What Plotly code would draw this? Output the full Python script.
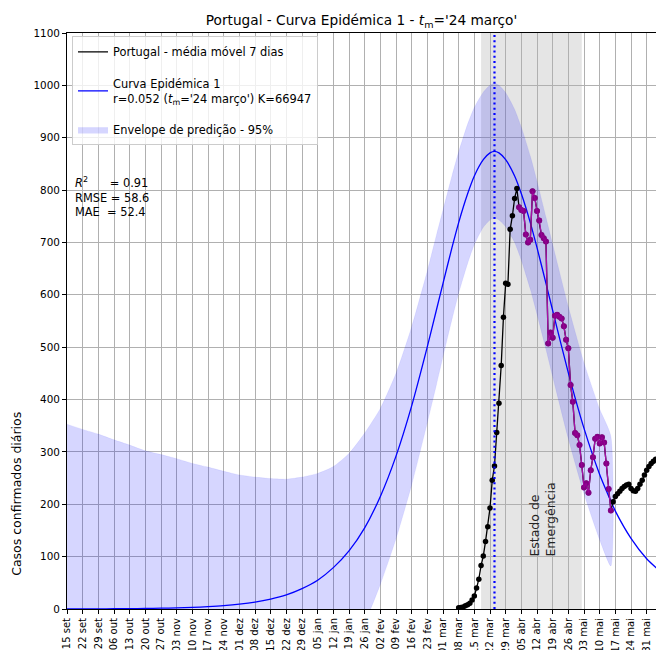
import plotly.graph_objects as go
import pandas as pd

# ---------------- data ----------------
tick_labels = ["15 set", "22 set", "29 set", "06 out", "13 out", "20 out", "27 out",
               "03 nov", "10 nov", "17 nov", "24 nov", "01 dez", "08 dez", "15 dez",
               "22 dez", "29 dez", "05 jan", "12 jan", "19 jan", "26 jan", "02 fev",
               "09 fev", "16 fev", "23 fev", "01 mar", "08 mar", "15 mar", "22 mar",
               "29 mar", "05 abr", "12 abr", "19 abr", "26 abr", "03 mai", "10 mai",
               "17 mai", "24 mai", "31 mai"]
tick_dates = pd.date_range("2019-09-15", periods=len(tick_labels), freq="7D")

# fitted epidemic curve
curve_dates = ["2019-09-15", "2019-09-22", "2019-09-29", "2019-10-06", "2019-10-13",
               "2019-10-20", "2019-10-27", "2019-11-03", "2019-11-10", "2019-11-17",
               "2019-11-24", "2019-12-01", "2019-12-08", "2019-12-15", "2019-12-22",
               "2019-12-29", "2020-01-05", "2020-01-12", "2020-01-19", "2020-01-26",
               "2020-02-02", "2020-02-09", "2020-02-16", "2020-02-23", "2020-02-27",
               "2020-03-01", "2020-03-05", "2020-03-08", "2020-03-12", "2020-03-15",
               "2020-03-19", "2020-03-22", "2020-03-24", "2020-03-26", "2020-03-29",
               "2020-04-02", "2020-04-05", "2020-04-09", "2020-04-12", "2020-04-16",
               "2020-04-19", "2020-04-26", "2020-05-03", "2020-05-10", "2020-05-15",
               "2020-05-17", "2020-05-24", "2020-05-31", "2020-06-07"]
curve_vals = [0.2, 0.2, 0.35, 0.5, 0.7, 1.0, 1.5, 2.2, 3.1, 4.5,
              6.4, 9.2, 13.2, 19, 27, 39, 55, 79, 111, 155,
              215, 292, 388, 501, 570, 622, 690, 738, 793, 827,
              858, 871, 874, 871, 858, 827, 793, 738, 690, 622,
              570, 451, 345, 257, 206, 187, 135, 96, 68]

# 95% prediction envelope
band_dates = curve_dates[:45]
band_upper = [353, 343, 334, 323, 313, 302, 295, 287, 278, 271,
              263, 256, 252, 249, 248, 252, 259, 272, 297, 336,
              383, 450, 539, 646, 713, 762, 827, 873, 926, 958,
              987, 1000, 1004, 1000, 986, 954, 920, 865, 817, 748,
              696, 577, 470, 382, 330]
band_lower = [-353, -343, -334, -322, -311, -300, -292, -283, -272, -262,
              -251, -238, -226, -211, -194, -174, -148, -114, -75, -26,
              47, 134, 237, 356, 427, 482, 553, 603, 660, 696,
              729, 743, 746, 743, 730, 700, 666, 611, 563, 496,
              444, 325, 220, 132, 82]

# Portugal - 7-day moving average (daily, from 8 March)
data_start = "2020-03-08"
data_vals = [2.5, 3, 4, 6, 8, 11, 17, 25, 40, 57,
             83, 101, 129, 157, 193, 246, 273, 337, 393, 465,
             557, 622, 620, 725, 751, 784, 803,
             767, 762, 760, 715, 700, 705, 798, 785, 760, 742,
             714, 708, 702, 507, 528, 518, 560, 562, 558, 555,
             540, 514, 498, 428, 396, 336, 332,
             313, 275, 232, 240, 222, 265, 290, 325, 329, 316,
             328, 318, 278, 229, 188,
             205, 215, 220, 225, 230, 234, 237, 238, 230, 226,
             225, 230, 238, 246, 256, 265, 272, 278, 282, 286]
data_dates = pd.date_range(data_start, periods=len(data_vals), freq="D")
fit_start = "2020-04-04"
fit_end = "2020-05-15"

emerg_start = "2020-03-18"
emerg_end = "2020-05-02"
tm_date = "2020-03-24"

# ---------------- figure ----------------
FONT = "DejaVu Sans"
fig = go.Figure()

# envelope
fig.add_trace(go.Scatter(
    x=list(band_dates) + list(band_dates[::-1]),
    y=band_upper + band_lower[::-1],
    fill="toself", fillcolor="rgba(0,0,255,0.16)",
    line=dict(color="rgba(0,0,255,0.08)", width=0.8, shape="spline", smoothing=0.6),
    mode="lines", name="Envelope de predição - 95%",
    legendgroup="c", legendrank=3, hoverinfo="skip"))

# fitted curve
fig.add_trace(go.Scatter(
    x=curve_dates, y=curve_vals, mode="lines",
    line=dict(color="blue", width=1.3, shape="spline", smoothing=0.6),
    name="Curva Epidémica 1<br>r=0.052 (<i>t</i><sub>m</sub>='24 março') K=66947",
    legendgroup="b", legendrank=2))

# data: line (in legend) + markers
fig.add_trace(go.Scatter(
    x=data_dates, y=data_vals, mode="lines",
    line=dict(color="black", width=1.3),
    name="Portugal - média móvel 7 dias",
    legendgroup="a", legendrank=1))
fig.add_trace(go.Scatter(
    x=data_dates, y=data_vals, mode="markers",
    marker=dict(color="black", size=5.5), showlegend=False))

mask = (data_dates >= pd.Timestamp(fit_start)) & (data_dates <= pd.Timestamp(fit_end))
fig.add_trace(go.Scatter(
    x=data_dates[mask], y=[v for v, m in zip(data_vals, mask) if m],
    mode="lines+markers",
    line=dict(color="#a810a8", width=1.3),
    marker=dict(color="rgba(145,0,145,0.9)", size=6),
    showlegend=False))

# state of emergency span
fig.add_shape(type="rect", xref="x", yref="paper", x0=emerg_start, x1=emerg_end,
              y0=0, y1=1, fillcolor="rgba(0,0,0,0.1)", line=dict(width=0), layer="below")
# tm line
fig.add_shape(type="line", xref="x", yref="paper", x0=tm_date, x1=tm_date, y0=0, y1=1,
              line=dict(color="blue", width=2.2, dash="2px,3.2px"), layer="above")

fig.add_annotation(x="2020-04-14 07:00", y=171, xref="x", yref="y",
                   text="Estado de<br>Emergência", textangle=-90, showarrow=False,
                   align="left", xanchor="center", yanchor="middle",
                   font=dict(family=FONT, size=12.5, color="#222"))

fig.add_annotation(x=0.0102, y=0.757, xref="paper", yref="paper",
                   text="<i>R</i><sup>2</sup>      = 0.91<br>RMSE = 58.6<br>MAE  = 52.4",
                   showarrow=False, align="left", xanchor="left", yanchor="top",
                   font=dict(family=FONT, size=11.4, color="black"))

fig.add_annotation(x=-0.0849, y=0.2, xref="paper", yref="paper",
                   text="Casos confirmados diários", textangle=-90, showarrow=False,
                   xanchor="center", yanchor="middle",
                   font=dict(family=FONT, size=12.5, color="black"))

axis_common = dict(showgrid=True, gridcolor="#b0b0b0", gridwidth=1,
                   ticks="outside", ticklen=4, tickcolor="black", tickwidth=1,
                   showline=True, linecolor="black", linewidth=1, mirror=True,
                   zeroline=False, automargin=False)

fig.update_xaxes(type="date", range=["2019-09-15", "2020-06-04 04:00"],
                 tickvals=tick_dates, ticktext=tick_labels, tickangle=-90,
                 tickfont=dict(family=FONT, size=10, color="black"),
                 **axis_common)
fig.update_yaxes(range=[0, 1100], tick0=0, dtick=100,
                 tickfont=dict(family=FONT, size=10.4, color="black"),
                 **axis_common)

fig.update_layout(
    width=656, height=650, autosize=False,
    margin=dict(l=67, r=0, t=33, b=41, autoexpand=False),
    plot_bgcolor="white", paper_bgcolor="white",
    font=dict(family=FONT, size=11.4, color="black"),
    hovermode=False,
    title=dict(text="Portugal - Curva Epidémica 1 - <i>t</i><sub>m</sub>='24 março'",
               x=0.5, xref="paper", xanchor="center", y=1 - 20 / 650, yref="container",
               yanchor="middle", font=dict(family=FONT, size=13.7, color="black")),
    showlegend=True,
    legend=dict(x=0.0085, y=0.994, xanchor="left", yanchor="top",
                bgcolor="rgba(255,255,255,0.8)", bordercolor="#cccccc", borderwidth=1,
                font=dict(family=FONT, size=11.4, color="black"),
                tracegroupgap=13, itemwidth=30),
)

fig.write_html("out.html", config={"displayModeBar": False},
               post_script="document.body.style.margin='0px';"
                           "document.body.style.overflow='hidden';")
